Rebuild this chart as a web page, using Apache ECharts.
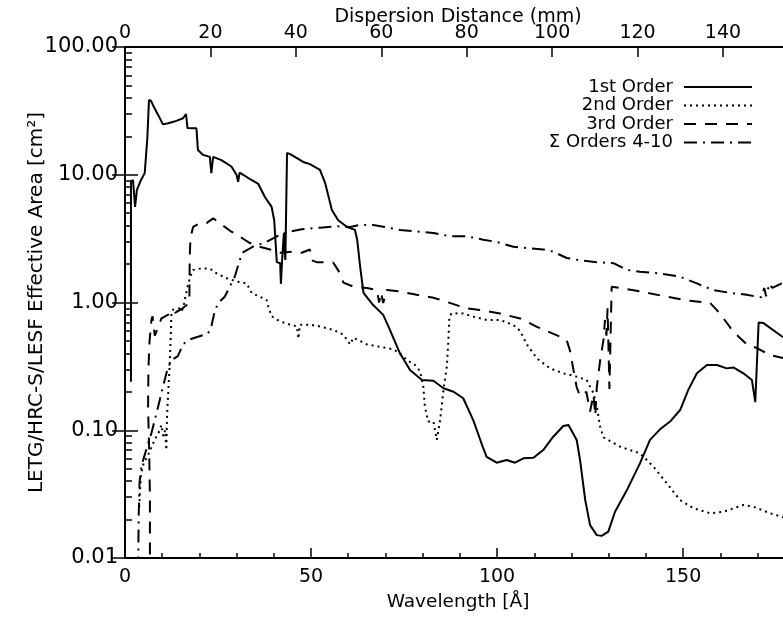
<!DOCTYPE html>
<html>
<head>
<meta charset="utf-8">
<script src="https://cdn.jsdelivr.net/npm/echarts@6/dist/echarts.min.js"></script>
<style>html,body{margin:0;padding:0;background:#fff;}#c{width:783px;height:618px;}</style>
</head>
<body>
<div id="c"></div>
<script>
// ---- data (wavelength in Angstrom, effective area in cm^2) ----
var seriesNames = ['1st Order', '2nd Order', '3rd Order', '\u03A3 Orders 4-10'];

var order1Wave = [1.6,1.6,2.15,2.7,3.2,4.3,5.3,6.0,6.45,7.0,7.5,8.9,10.2,11.6,13.8,15.6,16.4,16.8,19.2,19.6,21.0,22.8,23.2,23.7,25.9,28.6,30.0,30.4,30.8,34.0,35.8,37.6,39.4,40.1,40.8,41.7,41.9,42.2,42.7,43.1,43.55,44.4,47.9,49.7,52.4,53.8,55.6,57.3,59.6,61.8,62.4,63.2,64.1,66.7,69.4,71.2,73.9,76.6,79.8,82.9,85.6,88.3,90.9,93.6,96.3,97.2,99.9,102.6,104.8,107.1,109.8,112.4,115.1,117.8,119.2,121.4,122.3,123.7,125.0,126.8,128.1,129.9,131.7,134.9,138.4,141.1,143.8,146.5,149.2,151.4,153.7,156.4,159.1,161.7,163.5,166.2,168.5,169.4,170.3,171.6,177.0,179.0];
var order1Area = [0.24,8.8,9.1,5.6,7.6,9.1,10.3,19.3,38.5,37.8,35.2,29.4,24.8,25.3,26.4,27.7,29.9,23.2,23.1,15.6,14.3,13.8,10.3,13.8,13.0,11.6,9.95,8.8,10.4,9.1,8.5,6.7,5.6,4.4,2.07,2.03,1.40,2.07,3.5,2.15,14.8,14.5,12.6,12.1,10.9,8.6,5.3,4.4,3.92,3.7,3.1,1.91,1.19,0.955,0.80,0.61,0.40,0.296,0.247,0.244,0.213,0.20,0.178,0.12,0.072,0.062,0.0557,0.0585,0.0557,0.0603,0.061,0.070,0.089,0.108,0.110,0.084,0.0585,0.0284,0.0181,0.0151,0.0149,0.0161,0.023,0.034,0.0551,0.084,0.1017,0.117,0.144,0.207,0.279,0.324,0.324,0.305,0.31,0.279,0.247,0.166,0.697,0.69,0.532,0.515];

var order2Wave = [3.8,4.3,5.0,6.0,7.0,8.0,9.0,9.8,10.3,10.8,11.1,11.3,11.7,12.0,12.3,12.5,13.2,13.8,14.3,15.2,15.8,16.2,17.0,17.6,18.3,19.3,20.5,22.8,24.6,27.3,30.0,32.7,34.1,36.3,38.1,38.5,39.4,41.7,44.4,46.2,46.6,47.0,49.7,52.4,56.0,58.7,60.5,61.4,65.0,68.5,72.1,73.9,75.7,78.0,79.3,80.2,80.6,81.5,82.9,83.8,84.7,85.6,86.5,86.9,87.2,87.8,90.9,93.6,97.2,100.8,104.4,106.2,108.0,110.7,114.2,117.8,121.0,124.1,125.9,126.8,127.7,128.6,133.1,138.4,142.0,145.6,149.2,152.8,157.3,160.8,166.2,168.9,173.4,176.5,179.0];
var order2Area = [0.025,0.045,0.055,0.062,0.072,0.085,0.095,0.11,0.09,0.1,0.07,0.13,0.22,0.32,0.55,0.85,0.9,0.8,0.92,0.85,0.95,1.1,1.4,1.6,1.8,1.82,1.85,1.84,1.69,1.55,1.46,1.41,1.18,1.11,1.04,0.93,0.78,0.71,0.67,0.65,0.52,0.67,0.67,0.65,0.61,0.56,0.47,0.53,0.47,0.45,0.43,0.40,0.355,0.324,0.29,0.217,0.153,0.117,0.117,0.084,0.12,0.207,0.315,0.5,0.78,0.823,0.82,0.775,0.73,0.73,0.667,0.6,0.47,0.366,0.305,0.279,0.265,0.247,0.195,0.153,0.107,0.088,0.0743,0.066,0.052,0.0385,0.0284,0.0245,0.0224,0.023,0.026,0.0252,0.0224,0.021,0.02];

var order3Wave = [6.7,6.7,6.5,6.2,6.3,6.6,7.1,7.4,8.0,8.9,9.8,10.3,11.5,12.5,14.0,15.5,16.5,17.3,17.4,17.6,18.3,20.1,22.0,23.7,25.5,28.6,30.4,33.3,35.8,39.0,41.7,45.2,47.5,49.7,50.2,51.5,56.0,57.8,58.7,61.4,65.0,67.7,68.3,68.8,69.4,70.3,73.9,78.4,82.9,86.5,91.8,95.4,100.8,106.2,110.7,116.9,118.7,119.6,120.5,121.4,122.3,124.0,125.0,125.9,126.4,126.8,127.7,128.6,129.0,129.4,129.7,130.2,130.8,131.3,133.1,138.4,145.6,151.0,157.3,159.9,163.5,167.1,169.8,173.4,176.5,179.0];
var order3Area = [0.005,0.03,0.07,0.15,0.3,0.5,0.73,0.78,0.55,0.64,0.75,0.77,0.8,0.82,0.85,0.9,0.95,1.0,2.3,3.2,3.9,4.17,4.2,4.56,4.17,3.58,3.35,2.95,2.75,2.6,2.45,2.5,2.45,2.6,2.14,2.07,2.05,1.69,1.43,1.33,1.30,1.25,1.0,1.2,0.99,1.25,1.22,1.15,1.09,1.01,0.90,0.873,0.82,0.75,0.645,0.54,0.51,0.42,0.3,0.217,0.185,0.2,0.14,0.19,0.13,0.217,0.35,0.51,0.73,0.55,0.9,0.21,1.33,1.32,1.30,1.22,1.11,1.04,0.99,0.82,0.59,0.47,0.44,0.388,0.37,0.36];

var order4to10Wave = [3.5,3.6,3.7,3.9,4.4,5.0,6.0,7.1,8.0,8.9,9.8,10.7,11.6,12.9,14.2,15.6,16.9,19.6,22.3,23.2,24.1,25.0,26.8,28.6,29.5,30.4,31.5,33.1,34.9,37.2,40.8,43.5,47.5,52.4,56.9,60.5,63.0,66.7,69.4,73.9,78.4,82.9,87.4,91.8,96.3,99.9,104.4,112.4,115.1,118.7,122.3,126.8,131.3,134.9,138.4,143.8,149.2,153.7,158.1,162.6,167.1,169.8,171.0,171.8,172.3,173.2,174.0,176.5,179.0];
var order4to10Area = [0.005,0.013,0.0225,0.039,0.052,0.06,0.075,0.095,0.12,0.153,0.196,0.25,0.315,0.36,0.38,0.47,0.508,0.54,0.57,0.65,0.85,0.99,1.11,1.41,1.59,1.95,2.45,2.6,2.8,2.9,3.3,3.55,3.75,3.85,3.95,3.9,4.04,4.04,3.92,3.7,3.6,3.5,3.3,3.3,3.1,2.98,2.73,2.6,2.5,2.23,2.14,2.07,2.03,1.80,1.74,1.69,1.59,1.41,1.25,1.19,1.15,1.11,1.1,1.3,1.12,1.4,1.3,1.41,1.4];

// axis ticks
var wavelengthTicks = [0, 50, 100, 150];
var wavelengthMinorTicks = [10,20,30,40,60,70,80,90,110,120,130,140,160,170];
var distanceTicks = [0, 20, 40, 60, 80, 100, 120, 140];
var areaTicks = [0.01, 0.1, 1, 10, 100];
var areaMinorTicks = [0.02,0.03,0.04,0.05,0.06,0.07,0.08,0.09,0.2,0.3,0.4,0.5,0.6,0.7,0.8,0.9,2,3,4,5,6,7,8,9,20,30,40,50,60,70,80,90];

var waveMax = 179;
var angstromPerMm = 1.148;

function zip(a, b) { return a.map(function (v, i) { return [v, b[i]]; }); }

var FONT = 'DejaVu Sans';
var chart = echarts.init(document.getElementById('c'), null, {renderer: 'canvas'});

var lineTypes = ['solid', [2, 4], [12, 9], [13, 6, 2, 6]];
var datasets = [zip(order1Wave, order1Area), zip(order2Wave, order2Area), zip(order3Wave, order3Area), zip(order4to10Wave, order4to10Area)];

var axisLine = {show: true, lineStyle: {color: '#000', width: 2}};

var option = {
  animation: false,
  backgroundColor: '#fff',
  grid: {left: 125, right: -8, top: 47, bottom: 60, containLabel: false, outerBoundsMode: 'none'},
  legend: {
    orient: 'vertical', right: 25, top: 73, align: 'right',
    itemWidth: 68, itemHeight: 14, itemGap: 0.5,
    itemStyle: {opacity: 0},
    textStyle: {fontFamily: FONT, fontSize: 18, lineHeight: 18, color: '#000', padding: [0, 6, 0, 0]},
    data: seriesNames
  },
  xAxis: [
    {
      type: 'value', position: 'bottom', min: 0, max: waveMax, interval: 50,
      axisLine: axisLine,
      axisTick: {show: true, inside: true, length: 10, lineStyle: {color: '#000', width: 1.5}, customValues: wavelengthTicks},
      axisLabel: {fontFamily: FONT, fontSize: 19, color: '#000', margin: 10, customValues: wavelengthTicks},
      splitLine: {show: false},
      name: 'Wavelength [\u00C5]', nameLocation: 'middle', nameGap: 35, nameMoveOverlap: false,
      nameTextStyle: {fontFamily: FONT, fontSize: 18.5, color: '#000'}
    },
    {
      type: 'value', position: 'bottom', min: 0, max: waveMax,
      axisLine: {show: false},
      axisTick: {show: true, inside: true, length: 5, lineStyle: {color: '#000', width: 1.5}, customValues: wavelengthMinorTicks},
      axisLabel: {show: false},
      splitLine: {show: false}
    },
    {
      type: 'value', position: 'top', min: 0, max: waveMax / angstromPerMm, interval: 20,
      axisLine: axisLine,
      axisTick: {show: true, inside: true, length: 10, lineStyle: {color: '#000', width: 1.5}, customValues: distanceTicks},
      axisLabel: {fontFamily: FONT, fontSize: 19, color: '#000', margin: 4, customValues: distanceTicks},
      splitLine: {show: false},
      name: 'Dispersion Distance (mm)', nameLocation: 'middle', nameGap: 20, nameMoveOverlap: false,
      nameTextStyle: {fontFamily: FONT, fontSize: 19, color: '#000'}
    }
  ],
  yAxis: [
    {
      type: 'log', logBase: 10, position: 'left', min: 0.01, max: 100,
      axisLine: axisLine,
      axisTick: {show: true, inside: true, length: 13, lineStyle: {color: '#000', width: 1.5}, customValues: areaTicks},
      axisLabel: {fontFamily: FONT, fontSize: 21, color: '#000', margin: 7, customValues: areaTicks,
        formatter: function (v) { return Number(v).toFixed(2); }},
      splitLine: {show: false},
      name: 'LETG/HRC-S/LESF Effective Area [cm\u00B2]', nameLocation: 'middle', nameGap: 78, nameMoveOverlap: false,
      nameTextStyle: {fontFamily: FONT, fontSize: 20, color: '#000'}
    },
    {
      type: 'log', logBase: 10, position: 'left', min: 0.01, max: 100,
      axisLine: {show: false},
      axisTick: {show: true, inside: true, length: 7, lineStyle: {color: '#000', width: 1.5}, customValues: areaMinorTicks},
      axisLabel: {show: false},
      splitLine: {show: false}
    },
    {
      type: 'log', logBase: 10, position: 'right', min: 0.01, max: 100,
      axisLine: axisLine,
      axisTick: {show: true, inside: true, length: 13, lineStyle: {color: '#000', width: 1.5}, customValues: areaTicks},
      axisLabel: {show: false},
      splitLine: {show: false}
    }
  ],
  series: seriesNames.map(function (name, i) {
    return {
      name: name, type: 'line', xAxisIndex: 0, yAxisIndex: 0,
      data: datasets[i], symbol: 'none', showSymbol: false, clip: true,
      lineStyle: {color: '#000', width: 2, type: lineTypes[i]},
      itemStyle: {color: '#000'}
    };
  })
};
chart.setOption(option);
</script>
</body>
</html>
